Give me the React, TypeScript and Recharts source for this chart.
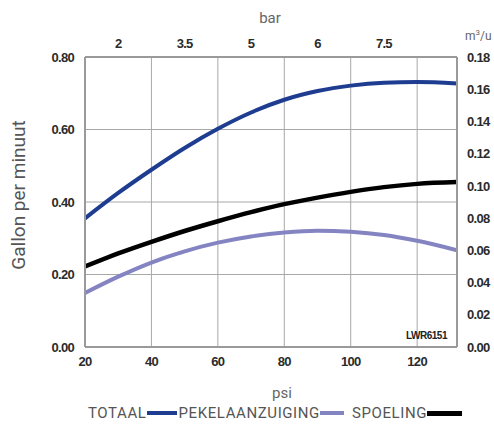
import {
  CartesianGrid,
  Line,
  LineChart,
  XAxis,
  YAxis
} from "recharts";

const psi = [20, 30, 40, 50, 60, 70, 80, 90, 100, 110, 120, 132];
const totaal = [0.355, 0.425, 0.489, 0.549, 0.602, 0.647, 0.682, 0.706, 0.721, 0.729, 0.731, 0.727];
const pekelaanzuiging = [0.149, 0.194, 0.233, 0.264, 0.288, 0.305, 0.316, 0.321, 0.318, 0.309, 0.293, 0.267];
const spoeling = [0.222, 0.258, 0.29, 0.32, 0.347, 0.372, 0.394, 0.412, 0.428, 0.441, 0.45, 0.455];

const psiTicks = [20, 40, 60, 80, 100, 120];
const barTicks = [30, 50, 70, 90, 110];
const barLabels = ["2", "3.5", "5", "6", "7.5"];
const gpmTicks = [0, 0.2, 0.4, 0.6, 0.8];
const m3Ticks = [0, 0.02, 0.04, 0.06, 0.08, 0.1, 0.12, 0.14, 0.16, 0.18];
const GPM_TO_M3H = 0.2271;

const data = psi.map((p, i) => ({
  psi: p,
  totaal: totaal[i],
  pekel: pekelaanzuiging[i],
  spoeling: spoeling[i],
  totaalM3: totaal[i] * GPM_TO_M3H
}));

const tickStyle = {
  fill: "#2b2b2b",
  fontSize: 13,
  fontWeight: 700,
  fontFamily: "Liberation Sans, Arial, sans-serif",
  letterSpacing: -0.7
};
const labelFont = "Roboto, 'Noto Sans', sans-serif";
const frame = { stroke: "#9a9a9a", strokeWidth: 2 };

export default function App() {
  return (
    <div style={{ position: "absolute", left: 0, top: 0, width: 494, height: 425, background: "#fff" }}>
      <LineChart
        width={494}
        height={425}
        data={data}
        margin={{ top: 37, right: 0, left: 25, bottom: 58 }}
      >
        <CartesianGrid xAxisId="bottom" yAxisId="gpm" stroke="#a8a8a8" strokeWidth={1} />
        <XAxis
          xAxisId="bottom"
          dataKey="psi"
          type="number"
          domain={[20, 132]}
          ticks={psiTicks}
          tick={tickStyle}
          tickSize={0}
          tickMargin={10}
          height={20}
          axisLine={frame}
          allowDataOverflow
        />
        <XAxis
          xAxisId="top"
          orientation="top"
          dataKey="psi"
          type="number"
          domain={[20, 132]}
          ticks={barTicks}
          tickFormatter={(v: number) => barLabels[barTicks.indexOf(v)] ?? ""}
          tick={tickStyle}
          tickSize={0}
          tickMargin={9}
          height={20}
          axisLine={frame}
          allowDataOverflow
        />
        <YAxis
          yAxisId="gpm"
          domain={[0, 0.8]}
          ticks={gpmTicks}
          tickFormatter={(v: number) => v.toFixed(2)}
          tick={tickStyle}
          tickSize={0}
          tickMargin={11}
          width={60}
          axisLine={frame}
        />
        <YAxis
          yAxisId="m3"
          orientation="right"
          domain={[0, 0.18]}
          ticks={m3Ticks}
          tickFormatter={(v: number) => v.toFixed(2)}
          tick={tickStyle}
          tickSize={0}
          tickMargin={10}
          width={37}
          axisLine={frame}
          allowDataOverflow
        />
        {/* same flow in m3/u, only there so the right axis gets drawn */}
        <Line
          xAxisId="top"
          yAxisId="m3"
          type="monotone"
          dataKey="totaalM3"
          stroke="none"
          strokeWidth={0}
          dot={false}
          activeDot={false}
          isAnimationActive={false}
        />
        <Line
          xAxisId="bottom"
          yAxisId="gpm"
          type="monotone"
          dataKey="pekel"
          stroke="#8584c2"
          strokeWidth={4}
          dot={false}
          isAnimationActive={false}
        />
        <Line
          xAxisId="bottom"
          yAxisId="gpm"
          type="monotone"
          dataKey="spoeling"
          stroke="#000000"
          strokeWidth={4.5}
          dot={false}
          isAnimationActive={false}
        />
        <Line
          xAxisId="bottom"
          yAxisId="gpm"
          type="monotone"
          dataKey="totaal"
          stroke="#1e3c90"
          strokeWidth={4}
          dot={false}
          isAnimationActive={false}
        />
      </LineChart>

      <div style={{ position: "absolute", left: 0, width: 540, top: 9, textAlign: "center", font: `15px ${labelFont}`, color: "#666" }}>
        bar
      </div>
      <div style={{ position: "absolute", left: 465, top: 28, font: `12px ${labelFont}`, color: "#666" }}>
        m<sup style={{ fontSize: 8 }}>3</sup>/u
      </div>
      <div style={{ position: "absolute", left: 0, width: 564, top: 384, textAlign: "center", font: `15px ${labelFont}`, color: "#666" }}>
        psi
      </div>
      <div
        style={{
          position: "absolute",
          left: 18,
          top: 195,
          transform: "translate(-50%, -50%) rotate(-90deg)",
          whiteSpace: "nowrap",
          font: `19px ${labelFont}`,
          color: "#555"
        }}
      >
        Gallon per minuut
      </div>
      <div style={{ position: "absolute", left: 406, top: 330, font: "bold 10px 'Liberation Sans', Arial, sans-serif", color: "#222", letterSpacing: -0.5 }}>
        LWR6151
      </div>
      <div
        style={{
          position: "absolute",
          left: 88,
          top: 404,
          display: "flex",
          alignItems: "center",
          font: `15px ${labelFont}`,
          color: "#555",
          letterSpacing: 0.6,
          whiteSpace: "nowrap"
        }}
      >
        <span>TOTAAL</span>
        <span style={{ display: "inline-block", width: 30, height: 4, background: "#1e3c90", marginRight: 2 }} />
        <span>PEKELAANZUIGING</span>
        <span style={{ display: "inline-block", width: 24, height: 4, background: "#8584c2", marginRight: 8 }} />
        <span>SPOELING</span>
        <span style={{ display: "inline-block", width: 35, height: 5, background: "#000" }} />
      </div>
    </div>
  );
}
